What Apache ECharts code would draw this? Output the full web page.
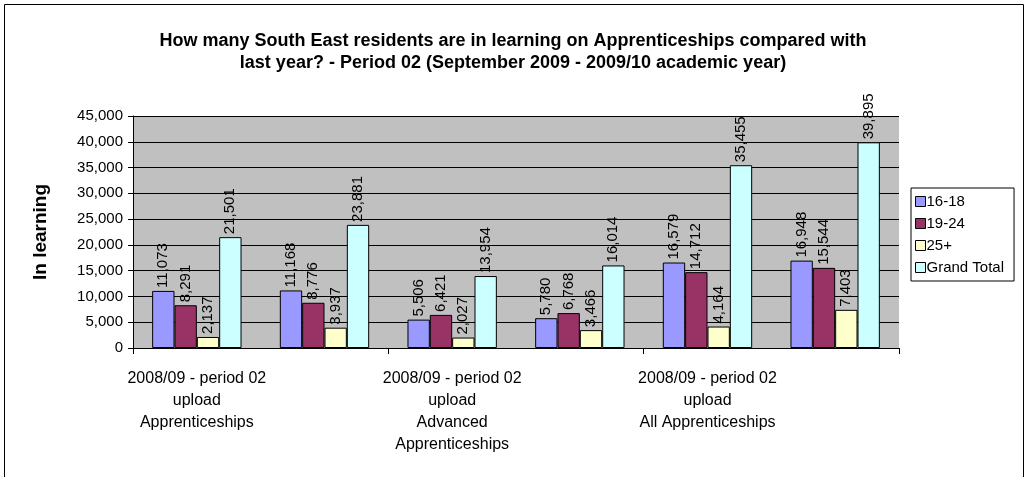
<!DOCTYPE html>
<html>
<head>
<meta charset="utf-8">
<script src="https://cdn.jsdelivr.net/npm/echarts@6/dist/echarts.min.js"></script>
<style>
  html, body { margin: 0; padding: 0; background: #fff; }
  #main { width: 1028px; height: 477px; }
</style>
</head>
<body>
<div id="main"></div>
<script>
// data
const categories = [
  "2008/09 - period 02\nupload\nApprenticeships",
  "2009/10 - period 02\nupload\nApprenticeships",
  "2008/09 - period 02\nupload\nAdvanced\nApprenticeships",
  "2009/10 - period 02\nupload\nAdvanced\nApprenticeships",
  "2008/09 - period 02\nupload\nAll Apprenticeships",
  "2009/10 - period 02\nupload\nAll Apprenticeships"
];
const seriesNames = ["16-18", "19-24", "25+", "Grand Total"];
const age1618 = [11073, 11168, 5506, 5780, 16579, 16948];
const age1924 = [8291, 8776, 6421, 6768, 14712, 15544];
const age25plus = [2137, 3937, 2027, 3466, 4164, 7403];
const grandTotal = [21501, 23881, 13954, 16014, 35455, 39895];
const colorArr = ["#9999FF", "#993366", "#FFFFCC", "#CCFFFF"];

const fmt = v => v.toLocaleString("en-US");

function barSeries(name, data, color) {
  return {
    name: name,
    type: "bar",
    data: data,
    barGap: 0,
    barCategoryGap: "30%",
    itemStyle: { color: color, borderColor: "#000", borderWidth: 1 },
    label: {
      show: true,
      position: "top",
      rotate: 90,
      align: "left",
      verticalAlign: "middle",
      distance: 3,
      color: "#000",
      fontSize: 15,
      formatter: p => fmt(p.value)
    }
  };
}

let chart = echarts.init(document.getElementById("main"));
let option = {
  animation: false,
  backgroundColor: "#fff",
  textStyle: { fontFamily: "Liberation Sans, Arial" },
  title: {
    text: "How many South East residents are in learning on Apprenticeships compared with\nlast year? - Period 02 (September 2009 - 2009/10 academic year)",
    left: 508,
    textAlign: "center",
    top: 25,
    textStyle: { fontSize: 18, fontWeight: "bold", color: "#000", lineHeight: 22 }
  },
  legend: {
    data: seriesNames,
    orient: "vertical",
    left: 911,
    top: 188,
    padding: [6, 10, 6, 4],
    itemWidth: 10,
    itemHeight: 10,
    itemGap: 7,
    icon: "rect",
    borderColor: "#000",
    borderWidth: 1,
    backgroundColor: "#fff",
    textStyle: { fontSize: 15, color: "#000", padding: [0, 0, 0, -4] },
    itemStyle: { borderColor: "#000", borderWidth: 1 }
  },
  grid: { left: 133, right: 129, top: 116, bottom: 129, containLabel: false,
    show: true, backgroundColor: "#C0C0C0", borderWidth: 0 },
  xAxis: {
    type: "category",
    data: categories,
    axisLine: { lineStyle: { color: "#000", width: 1 } },
    axisTick: { show: true, length: 6, lineStyle: { color: "#000" } },
    axisLabel: { interval: 1, color: "#000", fontSize: 16, lineHeight: 22, margin: 20 }
  },
  yAxis: {
    type: "value",
    min: 0,
    max: 45000,
    interval: 5000,
    name: "In learning",
    nameLocation: "middle",
    nameRotate: 90,
    nameGap: 83,
    nameTextStyle: { fontSize: 19, fontWeight: "bold", color: "#000" },
    axisLine: { show: true, lineStyle: { color: "#000", width: 1 } },
    axisTick: { show: true, length: 5, lineStyle: { color: "#000" } },
    axisLabel: { color: "#000", fontSize: 15, margin: 10, formatter: v => fmt(v) },
    splitLine: { lineStyle: { color: "#000", width: 1 } }
  },
  graphic: [{
    type: "rect",
    shape: { x: 4.5, y: 4.5, width: 1019, height: 520 },
    style: { fill: null, stroke: "#000", lineWidth: 1 },
    silent: true
  }],
  series: [
    barSeries(seriesNames[0], age1618, colorArr[0]),
    barSeries(seriesNames[1], age1924, colorArr[1]),
    barSeries(seriesNames[2], age25plus, colorArr[2]),
    barSeries(seriesNames[3], grandTotal, colorArr[3])
  ]
};
chart.setOption(option);
window.addEventListener("resize", chart.resize);
</script>
</body>
</html>
